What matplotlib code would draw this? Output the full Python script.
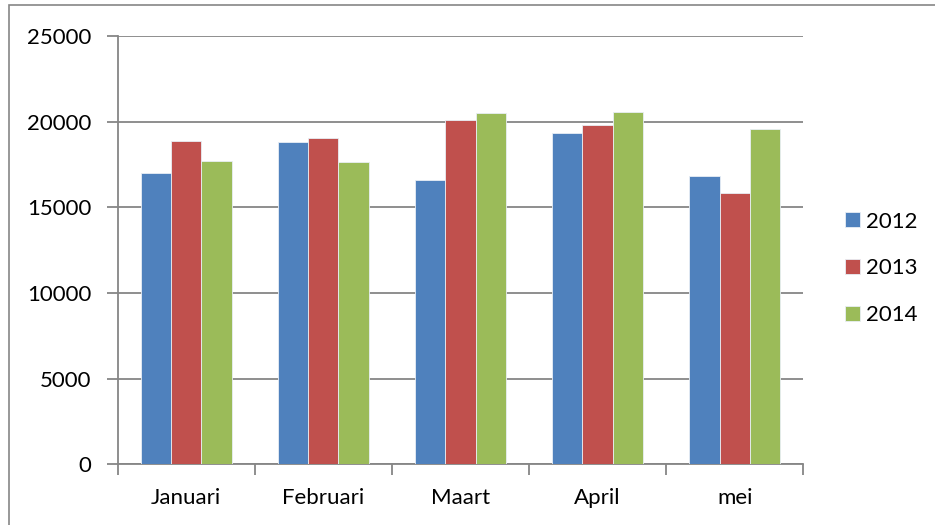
import matplotlib.pyplot as plt
import numpy as np
from matplotlib.patches import Rectangle

plt.rcParams['font.family'] = ['Lato', 'DejaVu Sans']

months = ['Januari', 'Februari', 'Maart', 'April', 'mei']
years = ['2012', '2013', '2014']
v2012 = [17000, 18820, 16590, 19350, 16860]
v2013 = [18880, 19080, 20120, 19840, 15820]
v2014 = [17700, 17630, 20530, 20570, 19590]
colors = ['#4F81BD', '#C0504D', '#9BBB59']

fig = plt.figure(figsize=(9.35, 5.25), dpi=100)
ax = fig.add_axes([0.126, 0.116, 0.733, 0.815])

x = np.arange(len(months))
w = 0.22
for i, (vals, lab, c) in enumerate(zip([v2012, v2013, v2014], years, colors)):
    ax.bar(x + (i - 1) * w, vals, width=w, color=c, label=lab,
           edgecolor='#e8eef5', linewidth=0.6, zorder=3)

ax.set_xlim(-0.5, len(months) - 0.5)
ax.set_ylim(0, 25000)
ax.set_yticks(range(0, 25001, 5000))
ax.yaxis.grid(True, color='#868686', linewidth=1.3, zorder=0)

# category ticks at boundaries, labels in the middle
ax.set_xticks(np.arange(-0.5, len(months), 1))
ax.set_xticklabels([''] * (len(months) + 1))
ax.set_xticks(x, minor=True)
ax.set_xticklabels(months, minor=True)
ax.tick_params(axis='x', which='minor', length=0, pad=17, labelsize=16)
ax.tick_params(axis='x', which='major', length=8, color='#868686', width=1.3)
ax.tick_params(axis='y', length=8, color='#868686', width=1.3, labelsize=16, pad=11)

for s in ['top', 'right']:
    ax.spines[s].set_visible(False)
for s in ['left', 'bottom']:
    ax.spines[s].set_color('#868686')
    ax.spines[s].set_linewidth(1.3)

fig.legend(loc='center left', bbox_to_anchor=(0.882, 0.489), frameon=False,
           fontsize=16, handlelength=0.68, handleheight=0.68, handletextpad=0.3,
           labelspacing=1.2)

fig.patches.append(Rectangle((0.0096, -0.1), 1.0, 1.0905, transform=fig.transFigure,
                             fill=False, edgecolor='#868686', linewidth=1.2))

fig.savefig('out.png', dpi=100)
